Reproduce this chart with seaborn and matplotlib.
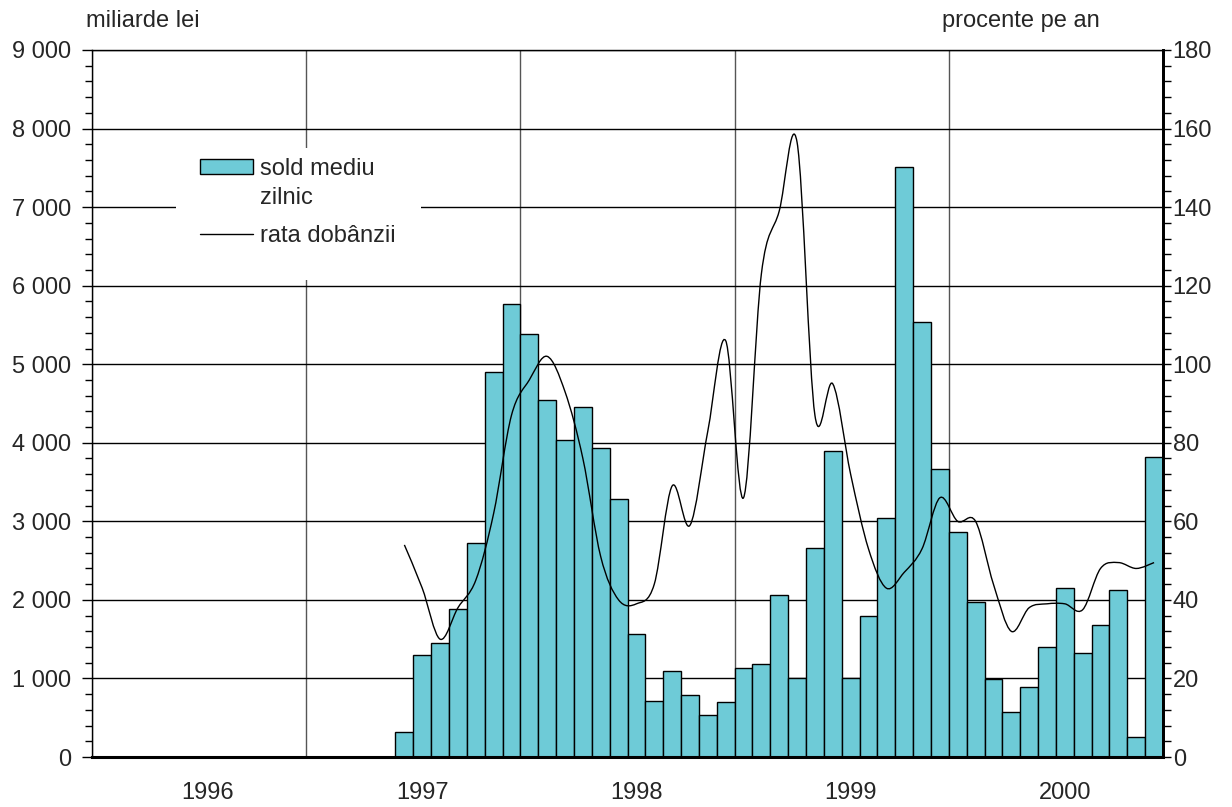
import matplotlib
matplotlib.use("Agg")
import numpy as np
import pandas as pd
import matplotlib.pyplot as plt
import seaborn as sns
from matplotlib.path import Path
from matplotlib.patches import PathPatch, Patch, Rectangle
from matplotlib.lines import Line2D
from matplotlib.legend_handler import HandlerPatch
from matplotlib.ticker import MultipleLocator, FixedLocator, FuncFormatter, NullFormatter

# --- data (monthly, June 1997 - December 2000) ---
years = ["1996", "1997", "1998", "1999", "2000"]
months = [f"{y}-{m:02d}" for y in years for m in range(1, 13)]
first_month = "1997-06"

# average daily balance, billion lei
sold_mediu = [
    320, 1300, 1450, 1890, 2730, 4900, 5770,                                # 1997 Jun-Dec
    5380, 4540, 4040, 4460, 3930, 3280, 1560, 710, 1100, 790, 530, 700,     # 1998
    1130, 1190, 2060, 1000, 2660, 3890, 1000, 1790, 3040, 7510, 5540, 3660, # 1999
    2870, 1970, 990, 570, 890, 1400, 2150, 1330, 1680, 2120, 260, 3820,     # 2000
]
# interest rate, percent per year
rata_dobanzii = [
    54, 43, 30, 38, 45, 62, 87,
    96, 102, 93, 76, 51, 40, 39, 44, 69, 59, 83, 106,
    66, 123, 139, 156.5, 87, 95, 72, 53, 43, 47, 53, 66,
    60, 60, 44, 32, 38, 39, 39, 37.5, 48, 49.5, 48, 49.5,
]

start = months.index(first_month)
df = pd.DataFrame({
    "luna": months[start:start + len(sold_mediu)],
    "sold": sold_mediu,
    "rata": rata_dobanzii,
})
df["pos"] = [months.index(m) for m in df["luna"]]

bar_color = "#6ECBD7"
FS = 17

sns.set_style("white")
plt.rcParams["font.family"] = ["Liberation Sans", "DejaVu Sans"]

W, H = 1232, 807
fig = plt.figure(figsize=(W / 100, H / 100), dpi=100)
ax = fig.add_axes([92 / W, (H - 757) / H, (1163 - 92) / W, (757 - 50) / H])

sns.barplot(data=df, x="luna", y="sold", order=months, width=1.0,
            color=bar_color, saturation=1, edgecolor="black", linewidth=1,
            errorbar=None, ax=ax)
ax.set_xlim(-0.5, len(months) - 0.5)
ax.set_ylim(0, 9000)
ax.set_xlabel("")
ax.set_ylabel("")
ax.set_axisbelow(True)

# x axis: year boundaries as major ticks, year labels on minor ticks
bounds = [12 * k - 0.5 for k in range(len(years) + 1)]
ax.xaxis.set_major_locator(FixedLocator(bounds))
ax.xaxis.set_major_formatter(NullFormatter())
ax.xaxis.set_minor_locator(FixedLocator([12 * k + 6 for k in range(len(years))]))
ax.xaxis.set_minor_formatter(FuncFormatter(lambda v, p: years[int(v) // 12]))
ax.tick_params(axis="x", which="major", length=8, width=2, direction="out", color="black")
ax.tick_params(axis="x", which="minor", length=0, pad=18, labelsize=FS)

# left y axis
ax.yaxis.set_major_locator(MultipleLocator(1000))
ax.yaxis.set_minor_locator(MultipleLocator(200))
ax.yaxis.set_major_formatter(FuncFormatter(lambda v, p: f"{int(v):,}".replace(",", " ")))
ax.tick_params(axis="y", which="major", length=7, width=1, direction="out",
               pad=8, labelsize=FS, left=True, color="black")
ax.tick_params(axis="y", which="minor", length=5, width=1, direction="out",
               left=True, color="black")

ax.yaxis.grid(True, which="major", color="black", lw=1)
ax.xaxis.grid(True, which="major", color="#555555", lw=1)

for s in ["left", "top"]:
    ax.spines[s].set_color("black")
    ax.spines[s].set_linewidth(1)
ax.spines["bottom"].set_linewidth(2.2)
ax.spines["bottom"].set_color("black")
ax.spines["right"].set_linewidth(2)
ax.spines["right"].set_color("black")

# right axis with smoothed interest-rate line
ax2 = ax.twinx()
ax2.set_ylim(0, 180)
ax2.set_xlim(ax.get_xlim())
ax2.yaxis.set_major_locator(MultipleLocator(20))
ax2.yaxis.set_minor_locator(MultipleLocator(4))
ax2.tick_params(axis="y", which="major", length=6, width=1, direction="out",
                pad=1, labelsize=FS, right=True, color="black")
ax2.tick_params(axis="y", which="minor", length=6, width=1, direction="out",
                right=True, color="black")
ax2.grid(False)
for s in ax2.spines.values():
    s.set_visible(False)
ax2.spines["right"].set_visible(True)
ax2.spines["right"].set_linewidth(2)
ax2.spines["right"].set_color("black")


def smooth_path(xs, ys):
    pts = np.column_stack([xs, ys]).astype(float)
    n = len(pts)
    verts = [pts[0]]
    codes = [Path.MOVETO]
    for i in range(n - 1):
        p0 = pts[i - 1] if i > 0 else pts[i]
        p1, p2 = pts[i], pts[i + 1]
        p3 = pts[i + 2] if i + 2 < n else pts[i + 1]
        verts += [p1 + (p2 - p0) / 6, p2 - (p3 - p1) / 6, p2]
        codes += [Path.CURVE4] * 3
    return Path(verts, codes)


ax2.add_patch(PathPatch(smooth_path(df["pos"], df["rata"]), facecolor="none",
                        edgecolor="black", lw=1, zorder=3))


class FirstLinePatch(HandlerPatch):
    # keep the swatch level with the first line of a two-line label
    def create_artists(self, legend, orig_handle, xdescent, ydescent,
                       width, height, fontsize, trans):
        p = Rectangle((-xdescent, -ydescent + 0.72 * fontsize), width, height)
        self.update_prop(p, orig_handle, legend)
        p.set_transform(trans)
        return [p]


# legend on a white box hiding the grid
ax2.add_patch(Rectangle((176 / W, (H - 280) / H), (421 - 176) / W, (280 - 148) / H,
                        transform=fig.transFigure, facecolor="white",
                        edgecolor="none", zorder=1))
bar_handle = Patch(facecolor=bar_color, edgecolor="black", lw=1)
handles = [bar_handle, Line2D([], [], color="black", lw=1)]
leg = ax2.legend(handles, ["sold mediu\nzilnic", "rata dobânzii"],
                 handler_map={bar_handle: FirstLinePatch()},
                 loc="upper left", bbox_to_anchor=(200 / W, 1 - 157.5 / H),
                 bbox_transform=fig.transFigure, frameon=False, fontsize=FS,
                 handlelength=2.25, handleheight=0.58, handletextpad=0.3,
                 borderpad=0, borderaxespad=0, labelspacing=0.66)
for t in leg.get_texts():
    t.set_linespacing(1.45)
leg.set_zorder(5)

fig.text(86 / W, 1 - 27 / H, "miliarde lei", fontsize=FS, ha="left", va="baseline")
fig.text(942 / W, 1 - 27 / H, "procente pe an", fontsize=FS, ha="left", va="baseline")

fig.savefig("out.png", dpi=100)
